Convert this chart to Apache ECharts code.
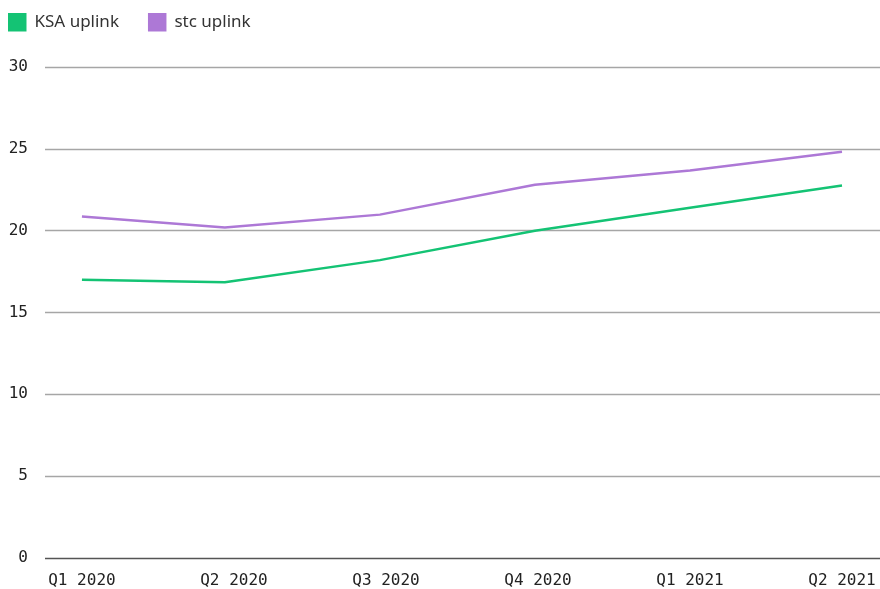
<!DOCTYPE html>
<html>
<head>
<meta charset="utf-8">
<script src="https://cdn.jsdelivr.net/npm/echarts@6/dist/echarts.min.js"></script>
<style>
  html, body { margin: 0; padding: 0; background: #fff; }
  #chart { width: 880px; height: 589px; }
</style>
</head>
<body>
<div id="chart"></div>
<script>
const quarters = ['Q1 2020', 'Q2 2020', 'Q3 2020', 'Q4 2020', 'Q1 2021', 'Q2 2021']
// where each reading sits along the quarter axis (0 = Q1 2020)
const readingAt = [0, 0.94, 1.96, 2.98, 4.0, 5.0]
const ksaUplink = [17.0, 16.85, 18.2, 20.0, 21.4, 22.76]
const stcUplink = [20.87, 20.2, 20.98, 22.8, 23.68, 24.82]
const yTicks = [0, 5, 10, 15, 20, 25, 30]

const monoFont = '"DejaVu Sans Mono", monospace'
const toPoints = (values) => values.map((v, i) => [readingAt[i], v])

const chart = echarts.init(document.getElementById('chart'))

chart.setOption({
  animation: false,
  legend: {
    left: 8,
    top: 13,
    padding: 0,
    itemWidth: 18.5,
    itemHeight: 18.5,
    itemGap: 29,
    icon: 'rect',
    textStyle: {
      fontFamily: '"Noto Sans", sans-serif',
      fontSize: 17,
      color: '#333',
      padding: [0, 0, 0, 3]
    },
    data: ['KSA uplink', 'stc uplink']
  },
  grid: { left: 45, right: 0, top: 67, bottom: 30 },
  xAxis: {
    type: 'value',
    min: -0.243,
    max: 5.25,
    splitLine: { show: false },
    axisLine: { show: false },
    axisTick: { show: false },
    axisLabel: {
      customValues: quarters.map((_, i) => i),
      formatter: (v) => quarters[Math.round(v)] ?? '',
      fontFamily: monoFont,
      fontSize: 16,
      color: '#222',
      margin: 15
    }
  },
  yAxis: {
    type: 'value',
    min: 0,
    max: 30,
    interval: 5,
    axisLine: { show: false },
    axisTick: { show: false },
    axisLabel: {
      customValues: yTicks,
      fontFamily: monoFont,
      fontSize: 16,
      color: '#222',
      margin: 17
    },
    splitLine: {
      lineStyle: {
        color: ['#555', '#a6a6a6', '#a6a6a6', '#a6a6a6', '#a6a6a6', '#a6a6a6', '#a6a6a6'],
        width: 1.3
      }
    }
  },
  series: [
    {
      name: 'KSA uplink',
      type: 'line',
      symbol: 'none',
      data: toPoints(ksaUplink),
      itemStyle: { color: '#14c374' },
      lineStyle: { width: 2.5 }
    },
    {
      name: 'stc uplink',
      type: 'line',
      symbol: 'none',
      data: toPoints(stcUplink),
      itemStyle: { color: '#ad78d6' },
      lineStyle: { width: 2.5 }
    }
  ]
})
</script>
</body>
</html>
